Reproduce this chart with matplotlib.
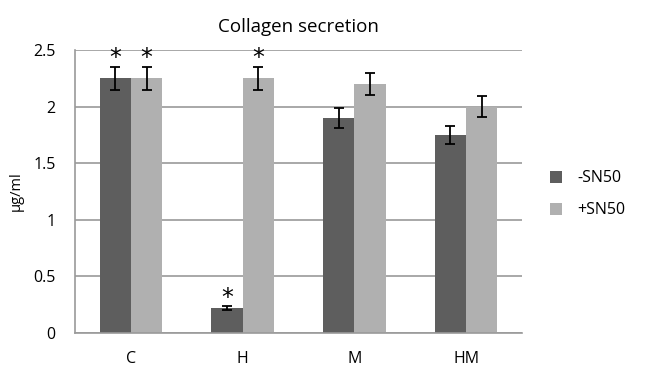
import matplotlib.pyplot as plt
import numpy as np

plt.rcParams['font.family'] = ['Open Sans', 'DejaVu Sans']

groups = ['C', 'H', 'M', 'HM']
minus_sn50 = [2.25, 0.22, 1.90, 1.75]
plus_sn50 = [2.25, 2.25, 2.20, 2.00]
minus_err = [0.10, 0.015, 0.09, 0.08]
plus_err = [0.10, 0.10, 0.10, 0.09]
minus_star = [True, True, False, False]
plus_star = [True, True, False, False]
yticks = [0, 0.5, 1, 1.5, 2, 2.5]
ytick_labels = ['0', '0.5', '1', '1.5', '2', '2.5']

dark = '#5e5e5e'
light = '#b0b0b0'

fig = plt.figure(figsize=(6.46, 3.67), dpi=100)
ax = fig.add_axes([75/646, 34/367, 447/646, 283/367])

x = np.arange(len(groups))
w = 0.28
ax.bar(x - w/2, minus_sn50, w, color=dark, label='-SN50', zorder=2)
ax.bar(x + w/2, plus_sn50, w, color=light, label='+SN50', zorder=2)
ax.errorbar(x - w/2, minus_sn50, yerr=minus_err, fmt='none', ecolor='black',
            elinewidth=1.3, capsize=3.5, capthick=1.3, zorder=3)
ax.errorbar(x + w/2, plus_sn50, yerr=plus_err, fmt='none', ecolor='black',
            elinewidth=1.3, capsize=3.5, capthick=1.3, zorder=3)

# significance stars
for i in range(len(groups)):
    if minus_star[i]:
        ax.text(x[i] - w/2, minus_sn50[i] + minus_err[i] - 0.03, '*', ha='center',
                va='bottom', fontsize=17, family='DejaVu Sans', zorder=4)
    if plus_star[i] or groups[i] == 'H':
        ax.text(x[i] + w/2, plus_sn50[i] + plus_err[i] - 0.03, '*', ha='center',
                va='bottom', fontsize=17, family='DejaVu Sans', zorder=4)

ax.set_xlim(-0.5, 3.5)
ax.set_ylim(0, 2.5)
ax.set_yticks(yticks)
ax.set_yticklabels(ytick_labels)
ax.set_xticks(x)
ax.set_xticklabels(groups)
ax.yaxis.grid(True, color='#9a9a9a', linewidth=1.2, zorder=0)
ax.set_axisbelow(True)
for s in ['top', 'right']:
    ax.spines[s].set_visible(False)
for s in ['left', 'bottom']:
    ax.spines[s].set_color('#9a9a9a')
    ax.spines[s].set_linewidth(1.2)
ax.tick_params(length=0, labelsize=11.5)
ax.tick_params(axis='x', pad=13)
ax.tick_params(axis='y', pad=14)
ax.set_ylabel('μg/ml', fontsize=10.5, labelpad=7)
ax.set_title('Collagen secretion', fontsize=13.5, pad=13)

ax.legend(loc='center left', bbox_to_anchor=(1.03, 0.49), frameon=False,
          fontsize=11.5, handlelength=0.75, handleheight=0.75, handletextpad=1.0,
          labelspacing=1.0)

fig.savefig('out.png', dpi=100)
